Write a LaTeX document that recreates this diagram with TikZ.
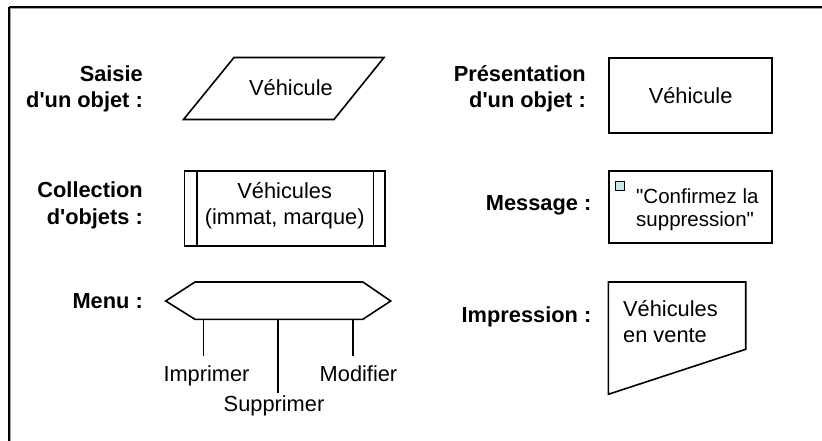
\documentclass[tikz,border=0pt]{standalone}
\usepackage{fontspec}
\newfontfamily\arial{Liberation Sans}
\definecolor{sqfill}{RGB}{200,232,232}
\begin{document}
\begin{tikzpicture}[x=1pt,y=-1pt,
  shp/.style={draw=black,line width=1.6pt,line join=miter},
  lbl/.style={font=\arial\fontsize{21.8}{26.5}\selectfont\bfseries,align=right,anchor=east,inner sep=0pt},
  txt/.style={font=\arial\fontsize{21.8}{26.5}\selectfont,align=center,inner sep=0pt},
  ltxt/.style={font=\arial\fontsize{21.8}{26.5}\selectfont,align=left,inner sep=0pt,anchor=north west},
  lnk/.style={draw=black,line width=1.5pt}]
\useasboundingbox (0,0) rectangle (822,441);
\fill[white] (0,0) rectangle (822,441);
% frame
\draw[gray!70,line width=1.5pt] (10.5,8.5) -- (822,8.5);
\draw[gray!70,line width=1.5pt] (10.5,8.5) -- (10.5,441);
\draw[black,line width=1.6pt] (9,7) -- (822,7);
\draw[black,line width=1.6pt] (9,7) -- (9,441);

% Saisie
\node[lbl] (lsaisie) at (143,89) {Saisie\\d'un objet :};
\draw[shp] (183.5,119.5) -- (234,57.5) -- (384,57.5) -- (334,119.5) -- cycle;
\node[txt] (tsaisie) at (291,88) {Véhicule};

% Presentation
\node[lbl] (lpres) at (586,89) {Présentation\\d'un objet :};
\node[shp,minimum width=163pt,minimum height=75pt,inner sep=0pt,anchor=north west,
  font=\arial\fontsize{21.8}{26.5}\selectfont] (pres) at (608.3,57.3) {Véhicule};

% Collection
\node[lbl] (lcoll) at (143,205.5) {Collection\\d'objets :};
\node[shp,minimum width=200.5pt,minimum height=75pt,inner sep=0pt,anchor=north west] (coll) at (183.5,170) {};
\draw[shp] ([xshift=13.5pt]coll.north west) -- ([xshift=13.5pt]coll.south west);
\draw[shp] ([xshift=-12pt]coll.north east) -- ([xshift=-12pt]coll.south east);
\node[txt] (tcoll) at (284.7,205.5) {Véhicules\\(immat, marque)};

% Message
\node[lbl] (lmsg) at (591.5,205) {Message :};
\node[shp,minimum width=163pt,minimum height=72pt,inner sep=0pt,anchor=north west] (msg) at (608.3,170.3) {};
\node[draw=black,line width=1pt,fill=sqfill,minimum size=9.5pt,inner sep=0pt,anchor=north west] (sq) at (614.5,180.5) {};
\node[ltxt,font=\arial\fontsize{20.5}{23}\selectfont] (tmsg) at (636,188) {"Confirmez la\\suppression"};

% Menu
\node[lbl] (lmenu) at (143,300.7) {Menu :};
\coordinate (h1) at (165.7,301);
\draw[shp] (h1) -- (195,282) -- (362.9,282) -- (390.7,301) -- (362.9,319.3) -- (195,319.3) -- cycle;
\coordinate (b1) at (203.5,319.3);
\coordinate (b2) at (278,319.3);
\coordinate (b3) at (353,319.3);
\node[txt,anchor=base] (imp) at (206.5,381.5) {Imprimer};
\node[txt,anchor=base] (sup) at (274,411.5) {Supprimer};
\node[txt,anchor=base] (mod) at (358.5,381.5) {Modifier};
\coordinate (e1) at (203.5,355.5);
\coordinate (e2) at (278,393);
\coordinate (e3) at (353,355.5);
\draw[lnk] (b1) -- (e1);
\draw[lnk] (b2) -- (e2);
\draw[lnk] (b3) -- (e3);

% Impression
\node[lbl] (limp) at (591.5,317) {Impression :};
\draw[shp] (608.3,282) -- (745.7,282) -- (745.7,349.3) -- (608.3,394.3) -- cycle;
\node[ltxt] (timp) at (623,300) {Véhicules\\en vente};
\end{tikzpicture}
\end{document}
